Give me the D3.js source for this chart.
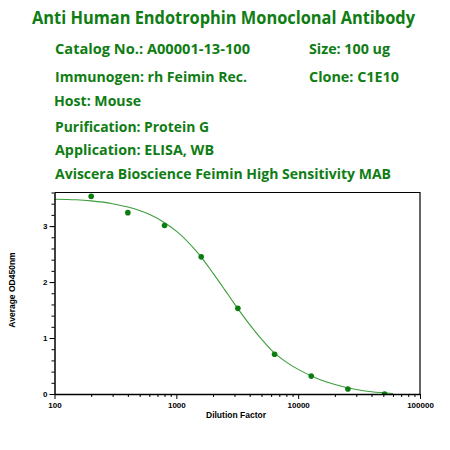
<!DOCTYPE html>
<html>
<head>
<meta charset="utf-8">
<script src="https://d3js.org/d3.v7.min.js"></script>
<style>
  body { margin: 0; background: #fff; }
  .head { font-family: "Open Sans", Lato, sans-serif; font-weight: bold; fill: #0f7d14; }
  .axis text { font-family: "Liberation Sans", Arial, sans-serif; font-weight: bold; font-size: 8px; fill: #000; }
  .lab { font-family: "Liberation Sans", Arial, sans-serif; font-weight: bold; font-size: 8.5px; fill: #000; }
</style>
</head>
<body>
<div id="chart"></div>
<script>
// measured points
let dilutions = [200, 400, 800, 1600, 3200, 6400, 12800, 25600, 51200]
let od450 = [3.53, 3.24, 3.01, 2.45, 1.53, 0.71, 0.32, 0.09, 0.0]

// fitted curve
let curveX = [100, 150, 200, 300, 400, 600, 800, 1000, 1500, 2000, 2500, 3000, 4000, 5000, 6000, 8000, 10000, 15000, 20000, 30000, 40000, 60000]
let curveY = [3.48, 3.47, 3.45, 3.40, 3.34, 3.21, 3.06, 2.91, 2.52, 2.16, 1.86, 1.61, 1.24, 0.98, 0.79, 0.57, 0.44, 0.26, 0.17, 0.08, 0.04, 0.01]

let xMajor = [100, 1000, 10000, 100000]
let yMajor = [0, 1, 2, 3]

let headLines = [
  {t: "Catalog No.: A00001-13-100", x: 55, y: 54, w: 195},
  {t: "Size: 100 ug", x: 309, y: 54, w: 81},
  {t: "Immunogen: rh Feimin Rec.", x: 55, y: 82, w: 192},
  {t: "Clone: C1E10", x: 309, y: 82, w: 90},
  {t: "Host: Mouse", x: 54, y: 106, w: 87},
  {t: "Purification: Protein G", x: 55, y: 132, w: 154},
  {t: "Application: ELISA, WB", x: 55, y: 155, w: 159},
  {t: "Aviscera Bioscience Feimin High Sensitivity MAB", x: 55, y: 179, w: 336}
]

let svg = d3.select("#chart").append("svg")
  .attr("width", 450).attr("height", 450)

svg.append("text").attr("class", "head")
  .attr("x", 32).attr("y", 24)
  .style("font-size", "17px")
  .attr("textLength", 383).attr("lengthAdjust", "spacingAndGlyphs")
  .text("Anti Human Endotrophin Monoclonal Antibody")

svg.selectAll(".sub").data(headLines).enter().append("text")
  .attr("class", "head sub")
  .attr("x", d => d.x).attr("y", d => d.y)
  .style("font-size", "14px")
  .attr("textLength", d => d.w).attr("lengthAdjust", "spacingAndGlyphs")
  .text(d => d.t)

let x = d3.scaleLog().domain([100, 100000]).range([54.5, 420])
let y = d3.scaleLinear().domain([0, 3.6]).range([394, 192.5])

svg.append("clipPath").attr("id", "plot")
  .append("rect")
  .attr("x", x(100)).attr("y", y(3.6))
  .attr("width", x(100000) - x(100)).attr("height", y(0) - y(3.6))

// frame on top and right
svg.append("path")
  .attr("d", `M${x(100)},${y(3.6)}H${x(100000)}V${y(0)}`)
  .attr("fill", "none").attr("stroke", "#000").attr("stroke-width", 1.2)

// curve
let line = d3.line().x(d => x(d[0])).y(d => y(d[1])).curve(d3.curveMonotoneX)
svg.append("path")
  .datum(curveX.map((v, i) => [v, curveY[i]]))
  .attr("d", line)
  .attr("fill", "none").attr("stroke", "#3c9e3c").attr("stroke-width", 1.1)

// points
svg.append("g").attr("clip-path", "url(#plot)")
  .selectAll("circle").data(dilutions).enter().append("circle")
  .attr("cx", d => x(d))
  .attr("cy", (d, i) => y(od450[i]))
  .attr("r", 2.8)
  .attr("fill", "#0b7d10")

// minor ticks
let xMinor = []
for (let dec = 100; dec < 100000; dec *= 10)
  for (let k = 2; k <= 9; k++) xMinor.push(dec * k)
let yMinor = d3.range(0, 3.61, 0.2)

svg.append("g").attr("class", "axis")
  .attr("transform", `translate(0,${y(0)})`)
  .call(d3.axisBottom(x).tickValues(xMinor).tickSize(3).tickFormat(""))
  .call(g => g.select(".domain").remove())
svg.append("g").attr("class", "axis")
  .attr("transform", `translate(0,${y(0)})`)
  .call(d3.axisBottom(x).tickValues(xMajor).tickSize(5).tickSizeOuter(0).tickPadding(3).tickFormat(d3.format("d")))
  .call(g => g.select(".domain").attr("stroke-width", 1.5))

svg.append("g").attr("class", "axis")
  .attr("transform", `translate(${x(100)},0)`)
  .call(d3.axisLeft(y).tickValues(yMinor).tickSize(3).tickFormat(""))
  .call(g => g.select(".domain").remove())
svg.append("g").attr("class", "axis")
  .attr("transform", `translate(${x(100)},0)`)
  .call(d3.axisLeft(y).tickValues(yMajor).tickSize(5).tickSizeOuter(0).tickPadding(2).tickFormat(d3.format("d")))
  .call(g => g.select(".domain").attr("stroke-width", 1.5))

svg.append("text").attr("class", "lab")
  .attr("x", 236).attr("y", 418)
  .attr("text-anchor", "middle")
  .text("Dilution Factor")

svg.append("text").attr("class", "lab")
  .attr("transform", "translate(15,290) rotate(-90)")
  .attr("text-anchor", "middle")
  .text("Average OD450nm")
</script>
</body>
</html>
